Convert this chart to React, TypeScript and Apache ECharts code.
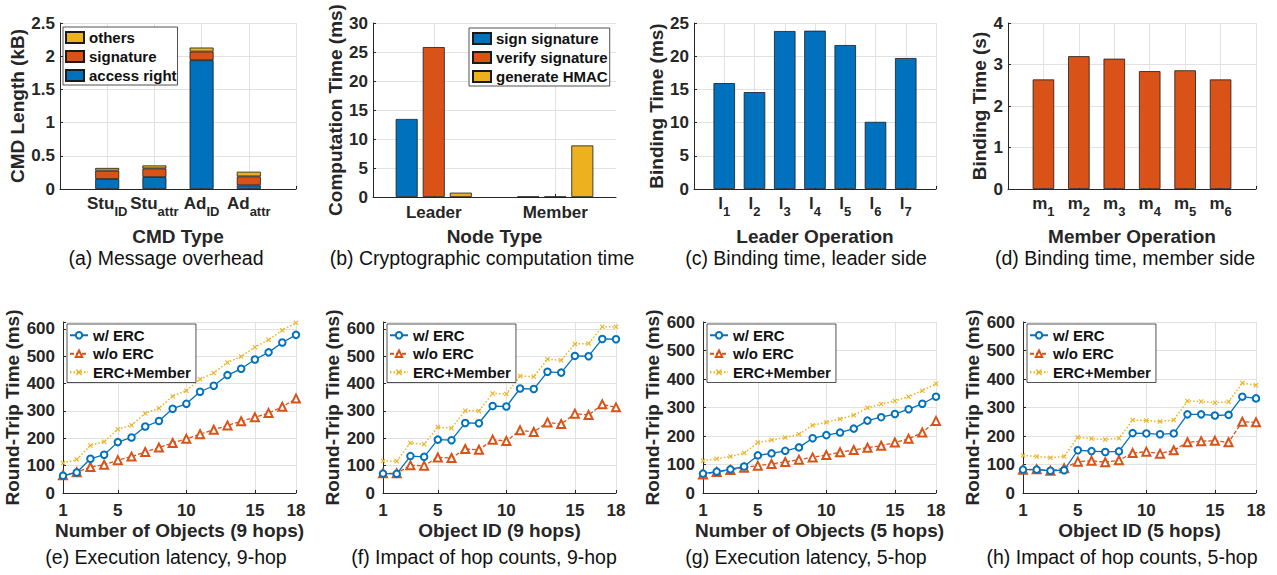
import React, { useEffect, useRef } from "react";
import * as echarts from "echarts";

const FONT = '"Liberation Sans", Arial, Helvetica, sans-serif';
const TXT = "#262626";
const BLUE = "#0072BD";
const ORANGE = "#D95319";
const YELLOW = "#EDB120";
const GRIDC = "#e2e2e2";
const EDGE = "#1a1a1a";

// (a) Message overhead
const cmdTypes = ["Stu_ID", "Stu_attr", "Ad_ID", "Ad_attr"];
const accessRight = [0.15, 0.18, 1.94, 0.055];
const signatureLen = [0.127, 0.13, 0.13, 0.135];
const othersLen = [0.04, 0.045, 0.06, 0.07];

// (b) Cryptographic computation time
const nodeTypes = ["Leader", "Member"];
const signSig = [13.45, 0.06];
const verifySig = [25.85, 0.06];
const genHmac = [0.75, 8.89];

// (c) Binding time, leader side
const leaderOps = ["l_1", "l_2", "l_3", "l_4", "l_5", "l_6", "l_7"];
const leaderTime = [15.95, 14.59, 23.79, 23.84, 21.68, 10.11, 19.72];

// (d) Binding time, member side
const memberOps = ["m_1", "m_2", "m_3", "m_4", "m_5", "m_6"];
const memberTime = [2.64, 3.2, 3.14, 2.84, 2.86, 2.64];

// (e)-(h) round-trip times
const objIds = ["1", "2", "3", "4", "5", "6", "7", "8", "9", "10", "11", "12", "13", "14", "15", "16", "17", "18"];
const xTickLabels = ["1", "5", "10", "15", "18"];

const eWErc = [63, 75, 125, 140, 186, 203, 243, 263, 308, 326, 370, 392, 431, 454, 488, 514, 550, 578];
const eWoErc = [65, 76, 95, 103, 120, 133, 150, 166, 183, 198, 215, 231, 247, 262, 277, 292, 315, 345];
const eMember = [110, 122, 174, 187, 233, 248, 291, 310, 354, 374, 416, 439, 477, 499, 533, 560, 595, 622];

const fWErc = [71, 70, 135, 132, 195, 193, 256, 255, 318, 316, 382, 380, 443, 440, 501, 500, 563, 562];
const fWoErc = [72, 72, 101, 100, 130, 128, 161, 158, 195, 190, 229, 223, 258, 252, 290, 285, 324, 313];
const fMember = [117, 116, 183, 178, 241, 237, 301, 300, 364, 362, 428, 425, 489, 485, 545, 546, 608, 608];

const gWErc = [68, 75, 83, 93, 132, 139, 148, 160, 192, 203, 212, 226, 254, 266, 277, 294, 313, 338];
const gWoErc = [65, 74, 81, 89, 96, 102, 109, 117, 125, 133, 143, 151, 159, 166, 177, 190, 212, 253];
const gMember = [113, 120, 128, 140, 177, 186, 195, 206, 238, 248, 260, 273, 299, 312, 323, 338, 359, 383];

const hWErc = [82, 82, 78, 80, 150, 147, 144, 146, 210, 209, 206, 209, 276, 276, 272, 274, 338, 332];
const hWoErc = [82, 83, 78, 87, 110, 113, 108, 115, 140, 145, 138, 150, 178, 182, 183, 178, 250, 248];
const hMember = [132, 128, 124, 128, 196, 191, 188, 192, 256, 254, 251, 256, 323, 321, 317, 320, 386, 378];

const captions = [
  "(a) Message overhead",
  "(b) Cryptographic computation time",
  "(c) Binding time, leader side",
  "(d) Binding time, member side",
  "(e) Execution latency, 9-hop",
  "(f) Impact of hop counts, 9-hop",
  "(g) Execution latency, 5-hop",
  "(h) Impact of hop counts, 5-hop",
];

const XMARK = "path://M0,1.5L1.5,0L5,3.5L8.5,0L10,1.5L6.5,5L10,8.5L8.5,10L5,6.5L1.5,10L0,8.5L3.5,5Z";

function buildOption() {
  const layout = {
    grids: [
      { left: 60, top: 23, width: 236, height: 166 },
      { left: 373, top: 23, width: 243, height: 174 },
      { left: 694, top: 23, width: 242, height: 166 },
      { left: 1008, top: 23, width: 248, height: 166 },
      { left: 63, top: 322, width: 233, height: 171 },
      { left: 383, top: 322, width: 233, height: 171 },
      { left: 703, top: 322, width: 233, height: 171 },
      { left: 1023, top: 322, width: 233, height: 171 },
    ],
    captionX: [166, 482, 806, 1125, 166, 484, 806, 1122],
    captionY: [258, 258, 258, 258, 557, 557, 557, 557],
  };

  const pad = (arr: any[], fill: any) => [fill, ...arr, fill];
  const padB = (arr: number[]) => ["-", arr[0], "-", arr[1], "-"];

  const subRich = {
    m: { fontFamily: FONT, fontSize: 17, fontWeight: "bold", color: TXT, lineHeight: 18, verticalAlign: "top" },
    s: { fontFamily: FONT, fontSize: 13, fontWeight: "bold", color: TXT, lineHeight: 14, verticalAlign: "top", padding: [10, 0, 0, 0] },
  };
  const subFmt = (v: string) => {
    if (!v) return "";
    const [a, b] = v.split("_");
    return `{m|${a}}{s|${b}}`;
  };

  const nameStyle = { fontFamily: FONT, fontSize: 19, fontWeight: "bold", color: TXT, lineHeight: 20 };
  const labelStyle = { fontFamily: FONT, fontSize: 17, fontWeight: "bold", color: TXT };

  const yAxis = (gi: number, min: number, max: number, interval: number, name: string, nameGap: number, margin: number, fmt?: any) => ({
    type: "value",
    gridIndex: gi,
    min,
    max,
    interval,
    name,
    nameLocation: "middle",
    nameGap,
    nameRotate: 90,
    nameTextStyle: nameStyle,
    axisLine: { show: true, lineStyle: { color: TXT, width: 1 } },
    axisTick: { show: true, inside: true, length: 3, lineStyle: { color: TXT } },
    axisLabel: { ...labelStyle, margin, formatter: fmt },
    splitLine: { show: true, lineStyle: { color: GRIDC, width: 1 } },
  });

  const catX = (gi: number, cats: string[], name: string, nameGap: number, margin: number, opts: any = {}) => ({
    type: "category",
    gridIndex: gi,
    data: cats,
    boundaryGap: false,
    name,
    nameLocation: "middle",
    nameGap,
    nameTextStyle: nameStyle,
    axisLine: { show: true, lineStyle: { color: TXT, width: 1 } },
    axisTick: { show: true, inside: true, length: 3, lineStyle: { color: TXT }, interval: opts.tickInterval ?? 0 },
    axisLabel: { ...labelStyle, margin, interval: opts.labelInterval ?? 0, formatter: opts.formatter, rich: opts.rich },
    splitLine: { show: true, interval: opts.splitInterval ?? 0, lineStyle: { color: GRIDC, width: 1 } },
  });

  const bCats = ["", nodeTypes[0], "", nodeTypes[1], ""];
  const bInt = (i: number) => i === 1 || i === 3;
  const lineInt = (i: number) => xTickLabels.indexOf(objIds[i]) >= 0;
  const lineFmt = (v: string) => (xTickLabels.indexOf(v) >= 0 ? v : "");
  const hundreds = (v: number) => (v % 100 === 0 ? String(v) : "");

  const xAxes = [
    catX(0, pad(cmdTypes, ""), "CMD Type", 37, 6, { formatter: subFmt, rich: subRich }),
    catX(1, bCats, "Node Type", 29, 7, { labelInterval: bInt, tickInterval: bInt, splitInterval: bInt }),
    catX(2, pad(leaderOps, ""), "Leader Operation", 37, 6, { formatter: subFmt, rich: subRich }),
    catX(3, pad(memberOps, ""), "Member Operation", 37, 6, { formatter: subFmt, rich: subRich }),
    catX(4, objIds, "Number of Objects (9 hops)", 27, 9, { labelInterval: lineInt, tickInterval: lineInt, splitInterval: lineInt, formatter: lineFmt }),
    catX(5, objIds, "Object ID (9 hops)", 27, 9, { labelInterval: lineInt, tickInterval: lineInt, splitInterval: lineInt, formatter: lineFmt }),
    catX(6, objIds, "Number of Objects (5 hops)", 27, 9, { labelInterval: lineInt, tickInterval: lineInt, splitInterval: lineInt, formatter: lineFmt }),
    catX(7, objIds, "Object ID (5 hops)", 27, 9, { labelInterval: lineInt, tickInterval: lineInt, splitInterval: lineInt, formatter: lineFmt }),
  ];

  const yAxes = [
    yAxis(0, 0, 2.5, 0.5, "CMD Length (kB)", 32, 5),
    yAxis(1, 0, 30, 5, "Computation Time (ms)", 25, 5),
    yAxis(2, 0, 25, 5, "Binding Time (ms)", 26, 5),
    yAxis(3, 0, 4, 1, "Binding Time (s)", 17, 5),
    yAxis(4, 0, 625, 100, "Round-Trip Time (ms)", 35, 8, hundreds),
    yAxis(5, 0, 625, 100, "Round-Trip Time (ms)", 35, 8, hundreds),
    yAxis(6, 0, 600, 100, "Round-Trip Time (ms)", 35, 8, hundreds),
    yAxis(7, 0, 600, 100, "Round-Trip Time (ms)", 35, 8, hundreds),
  ];

  const barItem = (color: string) => ({ color, borderColor: EDGE, borderWidth: 0.8 });

  const series: any[] = [
    { type: "bar", name: "access right", xAxisIndex: 0, yAxisIndex: 0, stack: "cmd", barWidth: 24, data: pad(accessRight, "-"), itemStyle: barItem(BLUE) },
    { type: "bar", name: "signature", xAxisIndex: 0, yAxisIndex: 0, stack: "cmd", barWidth: 24, data: pad(signatureLen, "-"), itemStyle: barItem(ORANGE) },
    { type: "bar", name: "others", xAxisIndex: 0, yAxisIndex: 0, stack: "cmd", barWidth: 24, data: pad(othersLen, "-"), itemStyle: barItem(YELLOW) },

    { type: "bar", name: "sign signature", xAxisIndex: 1, yAxisIndex: 1, barWidth: 22, barGap: "23%", data: padB(signSig), itemStyle: barItem(BLUE) },
    { type: "bar", name: "verify signature", xAxisIndex: 1, yAxisIndex: 1, barWidth: 22, barGap: "23%", data: padB(verifySig), itemStyle: barItem(ORANGE) },
    { type: "bar", name: "generate HMAC", xAxisIndex: 1, yAxisIndex: 1, barWidth: 22, barGap: "23%", data: padB(genHmac), itemStyle: barItem(YELLOW) },

    { type: "bar", name: "leader", xAxisIndex: 2, yAxisIndex: 2, barWidth: 21.5, data: pad(leaderTime, "-"), itemStyle: barItem(BLUE) },
    { type: "bar", name: "member", xAxisIndex: 3, yAxisIndex: 3, barWidth: 21.5, data: pad(memberTime, "-"), itemStyle: barItem(ORANGE) },
  ];

  const lineSets = [
    [eWErc, eWoErc, eMember],
    [fWErc, fWoErc, fMember],
    [gWErc, gWoErc, gMember],
    [hWErc, hWoErc, hMember],
  ];
  lineSets.forEach((set, k) => {
    const gi = 4 + k;
    series.push(
      {
        type: "line", name: "w/ ERC", xAxisIndex: gi, yAxisIndex: gi, data: set[0],
        symbol: "emptyCircle", symbolSize: 6.5, z: 4,
        lineStyle: { color: BLUE, width: 1.3, type: "solid" },
        itemStyle: { color: BLUE, borderWidth: 1.1 },
      },
      {
        type: "line", name: "w/o ERC", xAxisIndex: gi, yAxisIndex: gi, data: set[1],
        symbol: "emptyTriangle", symbolSize: 8, z: 3,
        lineStyle: { color: ORANGE, width: 1.3, type: [4, 2] },
        itemStyle: { color: ORANGE, borderWidth: 1.1 },
      },
      {
        type: "line", name: "ERC+Member", xAxisIndex: gi, yAxisIndex: gi, data: set[2],
        symbol: XMARK, symbolSize: 5, z: 2,
        lineStyle: { color: YELLOW, width: 1.5, type: [1.5, 2] },
        itemStyle: { color: YELLOW },
      }
    );
  });

  const legendText = { fontFamily: FONT, fontSize: 15, fontWeight: "bold", color: "#111", lineHeight: 19 };
  const legendBase = {
    orient: "vertical",
    itemGap: 0,
    itemWidth: 18,
    borderColor: TXT,
    borderWidth: 0.8,
    backgroundColor: "#ffffff",
    selectedMode: false,
  };
  const legends: any[] = [
    { ...legendBase, data: ["others", "signature", "access right"], left: 63, top: 27, padding: [1, 1, 0, 2], itemHeight: 11, icon: "rect", textStyle: legendText },
    { ...legendBase, data: ["sign signature", "verify signature", "generate HMAC"], left: 469, top: 28, padding: [1, 2, 0, 3], itemHeight: 11, icon: "rect", textStyle: legendText },
  ];
  [4, 5, 6, 7].forEach((gi) => {
    legends.push({
      ...legendBase,
      data: ["w/ ERC", "w/o ERC", "ERC+Member"],
      left: layout.grids[gi].left + 4,
      top: 324,
      padding: [2, 5, 1, 2],
      itemHeight: 8,
      textStyle: { ...legendText, lineHeight: 18.5 },
    });
  });

  const graphic = captions.map((t, i) => ({
    type: "text",
    x: layout.captionX[i],
    y: layout.captionY[i],
    style: {
      text: t,
      fontFamily: FONT,
      fontSize: 19.5,
      fill: "#111",
      textAlign: "center",
      textVerticalAlign: "middle",
    },
  }));

  return {
    animation: false,
    backgroundColor: "#ffffff",
    grid: layout.grids.map((g) => ({ ...g, containLabel: false })),
    xAxis: xAxes,
    yAxis: yAxes,
    legend: legends,
    series,
    graphic,
  };
}

export default function App() {
  const ref = useRef<HTMLDivElement>(null);
  useEffect(() => {
    if (!ref.current) return;
    const chart = echarts.init(ref.current, undefined, { renderer: "svg" });
    chart.setOption(buildOption() as any);
    return () => chart.dispose();
  }, []);
  return (
    <div
      ref={ref}
      style={{ position: "absolute", left: 0, top: 0, width: 1277, height: 575, background: "#fff" }}
    />
  );
}
